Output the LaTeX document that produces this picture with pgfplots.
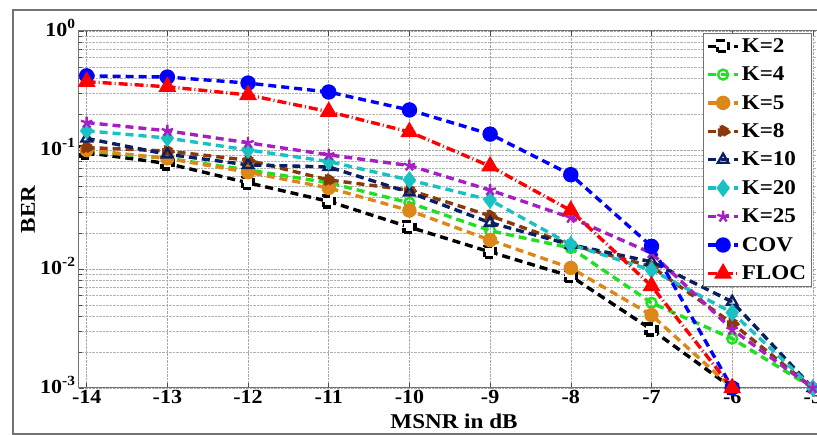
\documentclass[border=0pt]{standalone}
\usepackage{fontspec}
\setmainfont{Liberation Serif}[FakeStretch=1.1]
\usepackage{pgfplots}
\pgfplotsset{compat=1.18}
\definecolor{cgreen}{rgb}{0.13,0.88,0.13}
\definecolor{corange}{rgb}{0.87,0.53,0.10}
\definecolor{cbrown}{rgb}{0.55,0.22,0.04}
\definecolor{cnavy}{rgb}{0.04,0.12,0.38}
\definecolor{ccyan}{rgb}{0.10,0.76,0.76}
\definecolor{cmag}{rgb}{0.65,0.12,0.76}
\definecolor{framegray}{rgb}{0.45,0.45,0.45}
\begin{document}
\begin{tikzpicture}[x=1pt,y=1pt]
\useasboundingbox (0,0) rectangle (817,435);
\draw[framegray, line width=1.3pt] (13,1) rectangle (850,425);
\begin{axis}[
  at={(79pt,47pt)}, anchor=south west,
  scale only axis, width=750pt, height=357pt,
  ymode=log, xmin=-14.095, xmax=-4.80, ymin=1e-3, ymax=1,
  xtick={-14,-13,-12,-11,-10,-9,-8,-7,-6,-5},
  xticklabels={-14,-13,-12,-11,-10,-9,-8,-7,-6,-5},
  ytick={1e-3,1e-2,1e-1,1},
  yticklabels={10\textsuperscript{-3},10\textsuperscript{-2},10\textsuperscript{-1},10\textsuperscript{0}},
  tick label style={font=\fontsize{20}{24}\selectfont\bfseries},
  yticklabel style={yshift=3pt},
  xticklabel style={yshift=1pt},
  xlabel={MSNR in dB}, ylabel={BER},
  every axis x label/.style={at={(axis description cs:0.5,-0.092)}, anchor=center, font=\fontsize{21}{24}\selectfont\bfseries},
  every axis y label/.style={at={(axis description cs:-0.068,0.5)}, rotate=90, anchor=center, font=\fontsize{21}{24}\selectfont\bfseries},
  grid=both,
  major grid style={densely dotted, gray!70, line width=0.6pt},
  minor grid style={densely dotted, gray!60, line width=0.6pt},
  minor x tick num=0,
  tick align=inside, major tick length=5pt, minor tick length=3pt,
  tick style={gray!60!black, line width=0.6pt},
  axis line style={framegray, line width=1pt},
  clip=false,
  legend cell align=left,
  legend style={at={(axis description cs:0.832,0.994)}, anchor=north west,
    font=\fontsize{21}{24}\selectfont\bfseries, draw=framegray, line width=0.8pt,
    inner sep=3pt, row sep=9pt, fill=white},
  legend image code/.code={\draw[mark repeat=2,mark phase=2] plot coordinates {(0pt,0pt)(15pt,0pt)(30pt,0pt)};},
  every axis plot/.append style={line width=3.4pt, dash pattern=on 8pt off 5pt, mark options={solid, line width=2.4pt}},
]
\addplot[black, mark=square*, mark size=5.5pt, mark options={fill=white}] coordinates {(-14,0.095)(-13,0.077)(-12,0.053)(-11,0.037)(-10,0.0225)(-9,0.0139)(-8,0.0087)(-7,0.0031)(-6,0.001)};
\addplot[cgreen, mark=o, mark size=5pt] coordinates {(-14,0.098)(-13,0.085)(-12,0.068)(-11,0.053)(-10,0.036)(-9,0.021)(-8,0.015)(-7,0.0052)(-6,0.0026)(-5,0.001)};
\addplot[corange, mark=*, mark size=6pt] coordinates {(-14,0.100)(-13,0.085)(-12,0.065)(-11,0.048)(-10,0.031)(-9,0.0175)(-8,0.0102)(-7,0.0041)(-6,0.001)};
\addplot[cbrown, mark=triangle*, mark size=7pt, mark options={rotate=-90}] coordinates {(-14,0.105)(-13,0.098)(-12,0.082)(-11,0.056)(-10,0.046)(-9,0.028)(-8,0.016)(-7,0.0105)(-6,0.0035)(-5,0.001)};
\addplot[cnavy, mark=triangle, mark size=6pt] coordinates {(-14,0.125)(-13,0.092)(-12,0.075)(-11,0.072)(-10,0.044)(-9,0.0245)(-8,0.016)(-7,0.0115)(-6,0.0053)(-5,0.001)};
\addplot[ccyan, mark=diamond*, mark size=7pt] coordinates {(-14,0.145)(-13,0.126)(-12,0.100)(-11,0.080)(-10,0.056)(-9,0.038)(-8,0.016)(-7,0.0098)(-6,0.0043)(-5,0.001)};
\addplot[cmag, mark=star, mark size=6pt] coordinates {(-14,0.170)(-13,0.145)(-12,0.115)(-11,0.091)(-10,0.074)(-9,0.046)(-8,0.027)(-7,0.0136)(-6,0.0031)(-5,0.001)};
\addplot[blue, mark=*, mark size=6.5pt] coordinates {(-14,0.42)(-13,0.41)(-12,0.365)(-11,0.307)(-10,0.217)(-9,0.136)(-8,0.062)(-7,0.0155)(-6,0.001)};
\addplot[red, mark=triangle*, mark size=8pt, dash pattern=on 9pt off 3pt on 1pt off 3pt] coordinates {(-14,0.375)(-13,0.34)(-12,0.29)(-11,0.21)(-10,0.142)(-9,0.073)(-8,0.031)(-7,0.0072)(-6,0.001)};
\legend{K=2,K=4,K=5,K=8,K=10,K=20,K=25,COV,FLOC}
\end{axis}
\end{tikzpicture}
\end{document}
